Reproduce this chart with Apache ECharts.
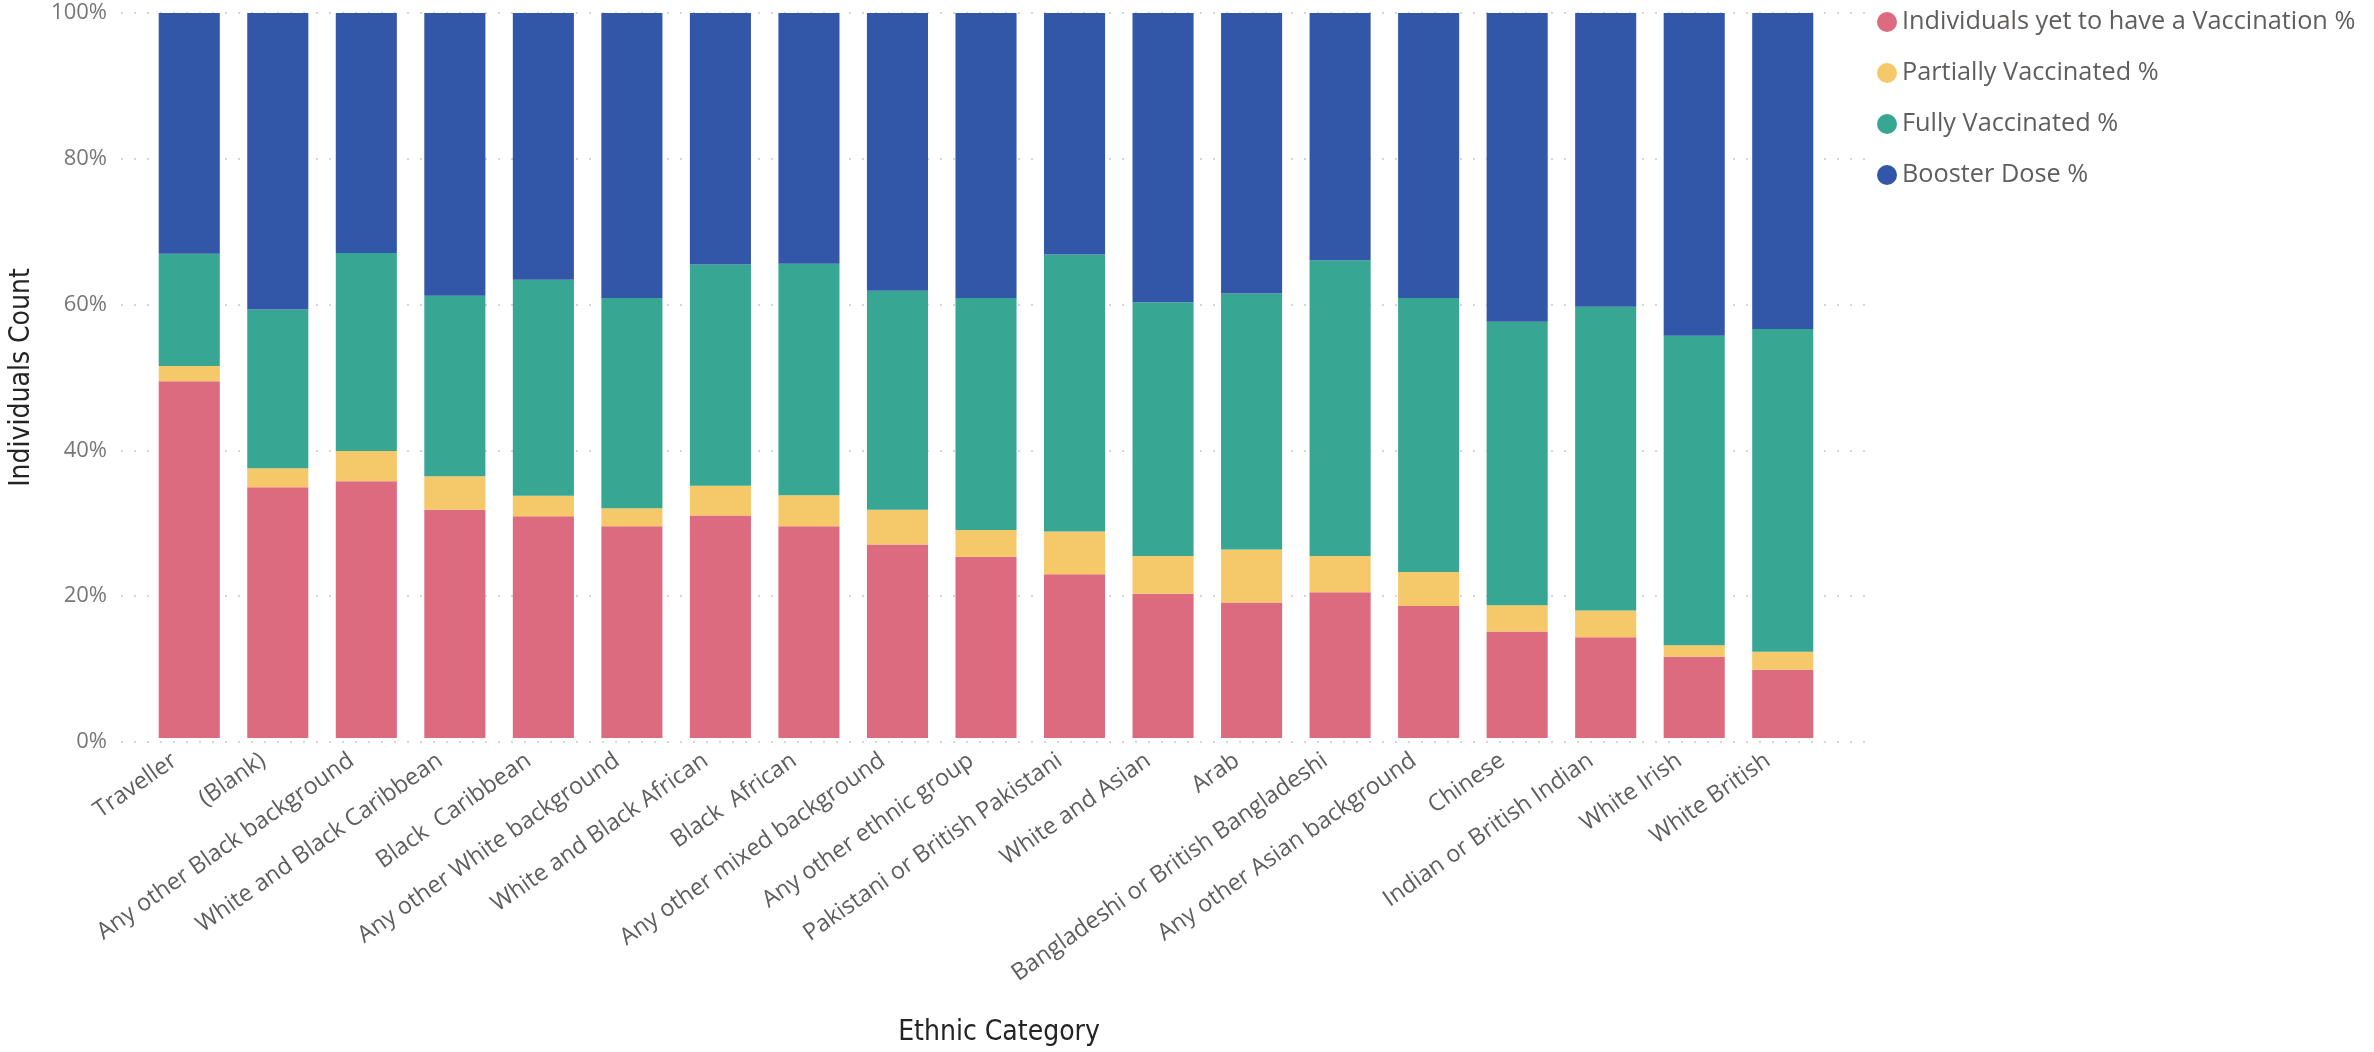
<!DOCTYPE html>
<html>
<head>
<meta charset="utf-8">
<title>Vaccination status by ethnic category</title>
<script src="https://cdn.jsdelivr.net/npm/echarts@6/dist/echarts.min.js"></script>
<style>
  html, body { margin: 0; padding: 0; background: #fff; }
  #chart { width: 2374px; height: 1052px; }
</style>
</head>
<body>
<div id="chart"></div>
<script>
// categories, left to right
const categories = [
  "Traveller", "(Blank)", "Any other Black background", "White and Black Caribbean",
  "Black  Caribbean", "Any other White background", "White and Black African", "Black  African",
  "Any other mixed background", "Any other ethnic group", "Pakistani or British Pakistani",
  "White and Asian", "Arab", "Bangladeshi or British Bangladeshi", "Any other Asian background",
  "Chinese", "Indian or British Indian", "White Irish", "White British"
];

// share of each category (%)
const notVaccinated = [49.2, 34.6, 35.4, 31.5, 30.6, 29.2, 30.7, 29.2, 26.7, 25.0, 22.6, 19.9, 18.7, 20.1, 18.2, 14.7, 13.9, 11.2, 9.4];
const partiallyVaccinated = [2.1, 2.6, 4.2, 4.6, 2.8, 2.5, 4.1, 4.3, 4.8, 3.7, 5.9, 5.2, 7.3, 5.0, 4.7, 3.6, 3.7, 1.6, 2.5];
const fullyVaccinated = [15.5, 21.9, 27.3, 24.9, 29.8, 29.0, 30.5, 31.9, 30.2, 32.0, 38.2, 35.0, 35.3, 40.8, 37.8, 39.1, 41.9, 42.7, 44.5];
const boosterDose = [33.2, 40.9, 33.1, 39.0, 36.8, 39.3, 34.7, 34.6, 38.3, 39.3, 33.3, 39.9, 38.7, 34.1, 39.3, 42.6, 40.5, 44.5, 43.6];

// y axis ticks
const yTicks = [0, 20, 40, 60, 80, 100];

const seriesNames = [
  "Individuals yet to have a Vaccination %",
  "Partially Vaccinated %",
  "Fully Vaccinated %",
  "Booster Dose %"
];
const seriesColors = ["#DD6B7F", "#F5C869", "#37A794", "#3257A8"];
const seriesData = [notVaccinated, partiallyVaccinated, fullyVaccinated, boosterDose];

const font = "'Segoe UI', 'Open Sans', sans-serif";
const titleFont = "'DejaVu Sans Condensed', 'Liberation Sans Narrow', sans-serif";

const mychart = echarts.init(document.getElementById("chart"));
mychart.setOption({
  animation: false,
  legend: {
    orient: "vertical",
    left: 1877,
    top: 9,
    padding: 0,
    icon: "circle",
    itemWidth: 20,
    itemHeight: 20,
    itemGap: 25,
    textStyle: { fontFamily: font, fontSize: 25.3, lineHeight: 26, color: "#605E5C" },
    data: seriesNames
  },
  grid: [
    // bars
    { left: 145, right: 547, top: 13, bottom: 310 },
    // wider grid only for the dotted lines and y labels
    { left: 114, right: 501, top: 13, bottom: 310 }
  ],
  xAxis: [
    {
      type: "category",
      gridIndex: 0,
      data: categories,
      axisLine: { show: false },
      axisTick: { show: false },
      axisLabel: {
        rotate: 35,
        margin: 10,
        interval: 0,
        // labels end a bit left of the bar centre, like the original
        padding: [0, 18, 0, 0],
        fontFamily: font,
        fontSize: 23.5,
        color: "#605E5C"
      },
      name: "Ethnic Category",
      nameLocation: "middle",
      nameGap: 281,
      nameTextStyle: { fontFamily: titleFont, fontSize: 28, color: "#252423", padding: [0, 0, 0, 26] }
    },
    { type: "value", gridIndex: 1, show: false, min: 0, max: 1 }
  ],
  yAxis: [
    { type: "value", gridIndex: 0, min: 0, max: 100, interval: 20, show: false },
    {
      type: "value",
      gridIndex: 1,
      min: yTicks[0],
      max: yTicks[yTicks.length - 1],
      interval: yTicks[1] - yTicks[0],
      axisLine: { show: false },
      axisTick: { show: false },
      axisLabel: {
        margin: 14,
        fontFamily: font,
        fontSize: 22,
        color: "#777777",
        formatter: "{value}%"
      },
      splitLine: { lineStyle: { color: "#C8C8C8", width: 1.5, type: [2, 11] } },
      name: "Individuals Count",
      nameLocation: "middle",
      nameRotate: 90,
      nameGap: 85,
      nameTextStyle: { fontFamily: titleFont, fontSize: 28, color: "#252423" }
    }
  ],
  series: seriesNames.map((name, i) => ({
    name: name,
    type: "bar",
    stack: "total",
    xAxisIndex: 0,
    yAxisIndex: 0,
    barCategoryGap: "31%",
    itemStyle: { color: seriesColors[i] },
    data: seriesData[i]
  }))
});
</script>
</body>
</html>
